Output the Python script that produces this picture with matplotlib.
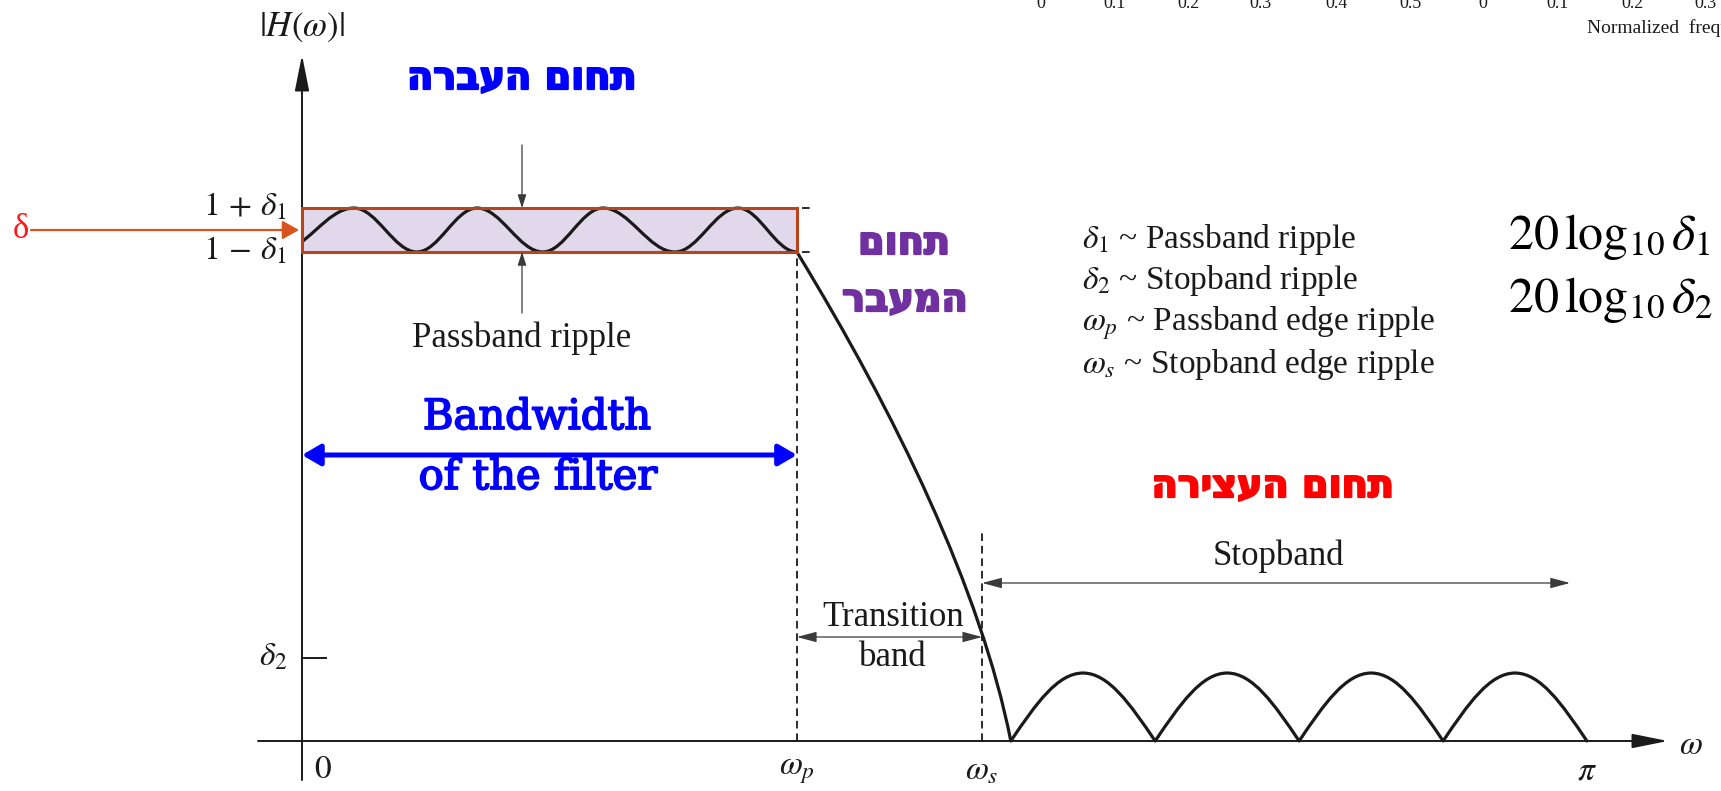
import numpy as np
import matplotlib

matplotlib.use("Agg")
import matplotlib.pyplot as plt
import matplotlib.patheffects as pe
from matplotlib.path import Path
from matplotlib.patches import PathPatch, Rectangle

plt.rcParams["mathtext.fontset"] = "stix"
plt.rcParams["lines.scale_dashes"] = False

# lowpass spec (omega in rad, |H| linear)
OMEGA_P = 1.21
OMEGA_S = 1.663
DELTA_1 = 0.043
DELTA_2 = 0.162

# passband ripple extrema; the first trough sits just left of omega=0 and gets clipped
ripple_peaks = [0.127, 0.428, 0.736, 1.066]
ripple_troughs = [-0.06, 0.281, 0.589, 0.912, OMEGA_P]

# stopband lobes: zeros and lobe heights
lobe_zeros = [1.733, 2.086, 2.438, 2.790, np.pi]
lobe_heights = [0.133, 0.133, 0.133, 0.133]

x_ticks = [0.0, OMEGA_P, OMEGA_S, np.pi]
x_tick_labels = [r"$0$", r"$\omega_p$", r"$\omega_s$", r"$\pi$"]
y_ticks = [1 + DELTA_1, 1 - DELTA_1, DELTA_2]
y_tick_labels = [r"$1\,+\,\delta_1$", r"$1\,-\,\delta_1$", r"$\delta_2$"]

legend_lines = [
    r"$\delta_1$ ~ Passband ripple",
    r"$\delta_2$ ~ Stopband ripple",
    r"$\omega_p$ ~ Passband edge ripple",
    r"$\omega_s$ ~ Stopband edge ripple",
]
db_lines = [r"$20\,\log_{10}\delta_1$", r"$20\,\log_{10}\delta_2$"]

PASS_LABEL = "תחום העברה"
TRANS_LABEL = ["תחום", "המעבר"]
STOP_LABEL = "תחום העצירה"

top_tick_labels = ["0", "0.1", "0.2", "0.3", "0.4", "0.5", "0", "0.1", "0.2", "0.3"]
top_tick_px = [1041, 1115, 1189, 1260, 1336, 1410, 1483, 1558, 1632, 1705]

# pixel layout of the drawing: omega=0 at x=302 px, |H|=0 at y=741 px
W, H = 1721, 791
X0, PX_RAD = 302, 409
Y0, PX_UNIT = 741, 511


def heb(s):
    # matplotlib lays text out left-to-right
    return s[::-1]


def px(x):
    return (x - X0) / PX_RAD


def py(y):
    return (Y0 - y) / PX_UNIT


K_COS = 1 - 2 / np.pi  # bezier handle for a half cosine
K_SIN = 0.352          # bezier handle for a quarter sine


def response_path():
    ext = []
    for i, t in enumerate(ripple_troughs):
        ext.append((t, 1 - DELTA_1))
        if i < len(ripple_peaks):
            ext.append((ripple_peaks[i], 1 + DELTA_1))
    verts = [ext[0]]
    codes = [Path.MOVETO]
    for (x0, y0), (x1, y1) in zip(ext[:-1], ext[1:]):
        dx = x1 - x0
        verts += [(x0 + K_COS * dx, y0), (x1 - K_COS * dx, y1), (x1, y1)]
        codes += [Path.CURVE4] * 3

    # transition band
    x0, y0 = OMEGA_P, 1 - DELTA_1
    x1, y1 = lobe_zeros[0], 0.0
    dx, dy = x1 - x0, y1 - y0
    verts += [(x0 + 0.46 * dx, y0 + 0.33 * dy), (x0 + 0.86 * dx, y0 + 0.69 * dy), (x1, y1)]
    codes += [Path.CURVE4] * 3

    # stopband lobes
    for a, b, h in zip(lobe_zeros[:-1], lobe_zeros[1:], lobe_heights):
        m = (a + b) / 2
        half = m - a
        verts += [(a + K_SIN * half, K_SIN * np.pi / 2 * h), (m - K_SIN * half, h), (m, h)]
        verts += [(m + K_SIN * half, h), (b - K_SIN * half, K_SIN * np.pi / 2 * h), (b, 0.0)]
        codes += [Path.CURVE4] * 6
    return Path(verts, codes)


fig = plt.figure(figsize=(W / 100, H / 100), dpi=100)
ax = fig.add_axes([0, 0, 1, 1])
ax.set_xlim(px(0), px(W))
ax.set_ylim(py(H), py(0))
ax.axis("off")

ink = "#1a1a1a"
thin = "#3a3a3a"

# passband tolerance box
ax.add_patch(Rectangle((0, 1 - DELTA_1), OMEGA_P, 2 * DELTA_1,
                       facecolor="#e2d8ec", edgecolor="none", zorder=1))
for lvl in (1 + DELTA_1, 1 - DELTA_1):
    ax.plot([0, OMEGA_P + 0.035], [lvl, lvl], color=ink, lw=1.3,
            dashes=(5.5, 3.5), zorder=2)

resp = PathPatch(response_path(), facecolor="none", edgecolor=ink, lw=2.3,
                 capstyle="round", joinstyle="round", zorder=3)
ax.add_patch(resp)
resp.set_clip_path(Rectangle((0, -1), 10, 5, transform=ax.transData))

ax.add_patch(Rectangle((0, 1 - DELTA_1), OMEGA_P, 2 * DELTA_1,
                       facecolor="none", edgecolor="#b8441c", lw=2.2, zorder=4))

# edge markers
ax.plot([OMEGA_P, OMEGA_P], [0, 1 - DELTA_1], color=ink, lw=1.3, dashes=(5.5, 3.5), zorder=2)
ax.plot([OMEGA_S, OMEGA_S], [0, py(530)], color=ink, lw=1.3, dashes=(5.5, 3.5), zorder=2)

# coordinate axes
axis_arrow = dict(arrowstyle="-|>,head_length=1.1,head_width=0.22", color=ink, lw=1.4,
                  mutation_scale=20, shrinkA=0, shrinkB=0)
ax.annotate("", xy=(px(1668), 0), xytext=(px(258), 0), arrowprops=axis_arrow)
ax.annotate("", xy=(0, py(55)), xytext=(0, py(780)), arrowprops=axis_arrow)
ax.plot([0, px(326)], [DELTA_2, DELTA_2], color=ink, lw=1.4)

ax.text(0, py(27), r"$|H(\omega)|$", fontsize=25, ha="center", va="center", color=ink)
ax.text(px(1691), py(745), r"$\omega$", fontsize=24, ha="center", va="center", color=ink)

for x, lab in zip(x_ticks, x_tick_labels):
    if x == 0:
        ax.text(px(314), py(768), lab, fontsize=24, ha="left", va="center", color=ink)
    else:
        ax.text(x, py(770), lab, fontsize=24, ha="center", va="center", color=ink)
for y, lab in zip(y_ticks, y_tick_labels):
    ax.text(px(287), y + 0.004, lab, fontsize=24, ha="right", va="center", color=ink)

# ripple size indicator
small = dict(arrowstyle="-|>,head_length=0.4,head_width=0.13", color=thin, lw=0.9,
             mutation_scale=20, shrinkA=0, shrinkB=0)
xr = px(522)
ax.annotate("", xy=(xr, 1 + DELTA_1), xytext=(xr, py(145)), arrowprops=small, zorder=5)
ax.annotate("", xy=(xr, 1 - DELTA_1), xytext=(xr, py(313)), arrowprops=small, zorder=5)
serif = "Liberation Serif"
ax.text(xr, py(347), "Passband ripple", fontsize=25, family=serif, ha="center",
        va="baseline", color=ink)

# band width arrows
band = dict(arrowstyle="<|-|>,head_length=0.6,head_width=0.16", color=thin, lw=0.9,
            mutation_scale=20, shrinkA=0, shrinkB=0)
ax.annotate("", xy=(OMEGA_S, py(637)), xytext=(OMEGA_P, py(637)), arrowprops=band)
ax.annotate("", xy=(px(1570), py(583)), xytext=(OMEGA_S, py(583)), arrowprops=band)
ax.text(px(893), py(626), "Transition", fontsize=25, family=serif, ha="center",
        va="baseline", color=ink)
ax.text(px(893), py(666), "band", fontsize=25, family=serif, ha="center",
        va="baseline", color=ink)
ax.text(px(1278), py(565), "Stopband", fontsize=25, family=serif, ha="center",
        va="baseline", color=ink)

# parameter legend
for i, line in enumerate(legend_lines):
    ax.text(px(1082), py(248 + 41.5 * i), line, fontsize=24, family=serif,
            ha="left", va="baseline", color=ink)
for i, line in enumerate(db_lines):
    ax.text(px(1508), py(249 + 63 * i), line, fontsize=36, ha="left",
            va="baseline", color="black")

# passband width
blue = "#0000ff"
ax.annotate("", xy=(OMEGA_P, py(455)), xytext=(0, py(455)),
            arrowprops=dict(arrowstyle="<|-|>,head_length=0.55,head_width=0.32",
                            color=blue, lw=3.6, mutation_scale=20,
                            shrinkA=0, shrinkB=0))
heavy_blue = [pe.withStroke(linewidth=1.3, foreground=blue)]
ax.text(px(537), py(417), "Bandwidth", fontsize=30, family="DejaVu Serif",
        ha="center", va="center", color=blue, path_effects=heavy_blue)
ax.text(px(538), py(477), "of the filter", fontsize=30, family="DejaVu Serif",
        ha="center", va="center", color=blue, path_effects=heavy_blue)

# delta pointer
ax.annotate("", xy=(px(299), 1.0), xytext=(px(31), 1.0),
            arrowprops=dict(arrowstyle="-|>,head_length=0.5,head_width=0.28",
                            color="#d9531e", lw=1.6, mutation_scale=20,
                            shrinkA=0, shrinkB=0))
ax.text(px(21), 1.0, "δ", fontsize=25, family=serif, ha="center", va="center",
        color="#ff1a1a")

# region names
def region_label(x, y, s, color):
    ax.text(x, y, heb(s), color=color, family="DejaVu Sans", weight="bold",
            fontsize=27.5, ha="center", va="center",
            path_effects=[pe.withStroke(linewidth=1.6, foreground=color)])


region_label(px(522), py(79), PASS_LABEL, blue)
region_label(px(904), py(244), TRANS_LABEL[0], "#7030a0")
region_label(px(905), py(301), TRANS_LABEL[1], "#7030a0")
region_label(px(1273), py(487), STOP_LABEL, "#ff0000")

# axis residue from the figure above
for xp, lab in zip(top_tick_px, top_tick_labels):
    ax.text(px(xp), py(3), lab, fontsize=13, family=serif, ha="center",
            va="center", color=ink)
ax.text(px(1587), py(28), "Normalized  frequency", fontsize=14, family=serif,
        ha="left", va="center", color=ink)

fig.savefig("out.png", dpi=100, facecolor="white")
